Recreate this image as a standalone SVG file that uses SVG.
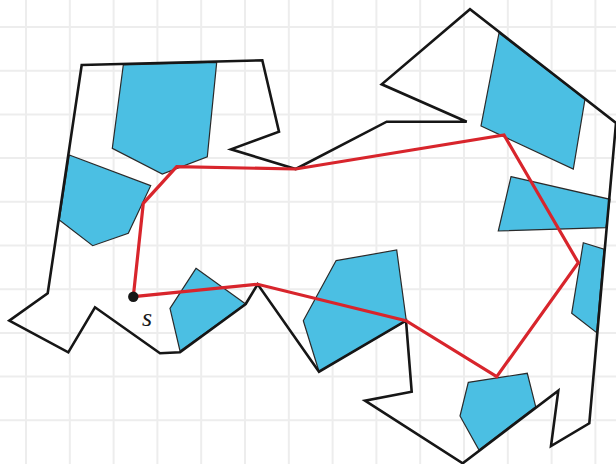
<svg xmlns="http://www.w3.org/2000/svg" width="616" height="464" viewBox="0 0 616 464">
  <style>
    .grid line { stroke: #ededed; stroke-width: 2; }
    .obs { fill: #4bbfe3; stroke: #2a2a2a; stroke-width: 1.2; stroke-linejoin: miter; }
    .outline { fill: none; stroke: #161616; stroke-width: 2.6; stroke-linejoin: miter; }
    .route { fill: none; stroke: #d8252c; stroke-width: 3.2; stroke-linejoin: miter; }
    .lbl { font-family: "Liberation Serif", "Times New Roman", serif; font-style: italic; font-size: 26px; fill: #1a1a1a; }
  </style>
  <rect width="616" height="464" fill="#ffffff"/>
  <g id="grid" class="grid">
    <line x1="26" y1="0" x2="26" y2="464"/>
    <line x1="69.8" y1="0" x2="69.8" y2="464"/>
    <line x1="113.6" y1="0" x2="113.6" y2="464"/>
    <line x1="157.4" y1="0" x2="157.4" y2="464"/>
    <line x1="201.2" y1="0" x2="201.2" y2="464"/>
    <line x1="245" y1="0" x2="245" y2="464"/>
    <line x1="288.8" y1="0" x2="288.8" y2="464"/>
    <line x1="332.6" y1="0" x2="332.6" y2="464"/>
    <line x1="376.4" y1="0" x2="376.4" y2="464"/>
    <line x1="420.2" y1="0" x2="420.2" y2="464"/>
    <line x1="464" y1="0" x2="464" y2="464"/>
    <line x1="507.8" y1="0" x2="507.8" y2="464"/>
    <line x1="551.6" y1="0" x2="551.6" y2="464"/>
    <line x1="595.4" y1="0" x2="595.4" y2="464"/>
    <line x1="0" y1="27" x2="616" y2="27"/>
    <line x1="0" y1="70.7" x2="616" y2="70.7"/>
    <line x1="0" y1="114.4" x2="616" y2="114.4"/>
    <line x1="0" y1="158.1" x2="616" y2="158.1"/>
    <line x1="0" y1="201.8" x2="616" y2="201.8"/>
    <line x1="0" y1="245.5" x2="616" y2="245.5"/>
    <line x1="0" y1="289.2" x2="616" y2="289.2"/>
    <line x1="0" y1="332.9" x2="616" y2="332.9"/>
    <line x1="0" y1="376.6" x2="616" y2="376.6"/>
    <line x1="0" y1="420.3" x2="616" y2="420.3"/>
  </g>
  <g id="obstacles">
    <polygon id="obs1" class="obs" points="123.3,65 216.7,62.3 207.3,156.7 162.3,174 112.3,148.3"/>
    <polygon id="obs2" class="obs" points="69.3,155 150.7,185.7 128.3,233.3 92.7,245.7 59.3,220"/>
    <polygon id="obs3" class="obs" points="196,268.3 245.7,304 180,351 170,308.3"/>
    <polygon id="obs4" class="obs" points="336,260.7 396.7,250 406.3,320.7 319,371.5 303.3,320.7"/>
    <polygon id="obs5" class="obs" points="468.3,382.3 527.3,373.3 535.7,406.7 479,450 460,416"/>
    <polygon id="obs6" class="obs" points="583.3,242.7 604,249.3 596.7,332.7 571.7,313.3"/>
    <polygon id="obs7" class="obs" points="499,33 585,99 573.3,169 481,126"/>
    <polygon id="obs8" class="obs" points="511,176.7 610,199.3 606,227.7 498.3,231"/>
  </g>
  <g id="boundary">
    <polygon class="outline" points="81.7,65 262.3,60.3 279,131.7 231,149.3 295.7,169 386.7,121.7 466.7,121.7 381.7,84.3 470,9.3 616,123 589.3,423.3 551,446 558.3,390.7 462.7,463.3 365,400.7 411.7,391.7 406,320.7 319,371.7 257.7,284.3 245.7,304 180,352.3 160,353.3 95,307.3 68.3,352.3 9.3,320.7 47.7,293.3"/>
  </g>
  <g id="connectors">
    <polygon class="route" points="133.3,296.7 143.3,203.3 176.7,166.7 295.7,169 504,135 578.3,262.7 496.7,376.7 406,320.7 257.7,284.3"/>
  </g>
  <g id="start">
    <circle cx="133.3" cy="296.7" r="5.2" fill="#161616"/>
    <text class="lbl" x="142" y="326">s</text>
  </g>
</svg>
